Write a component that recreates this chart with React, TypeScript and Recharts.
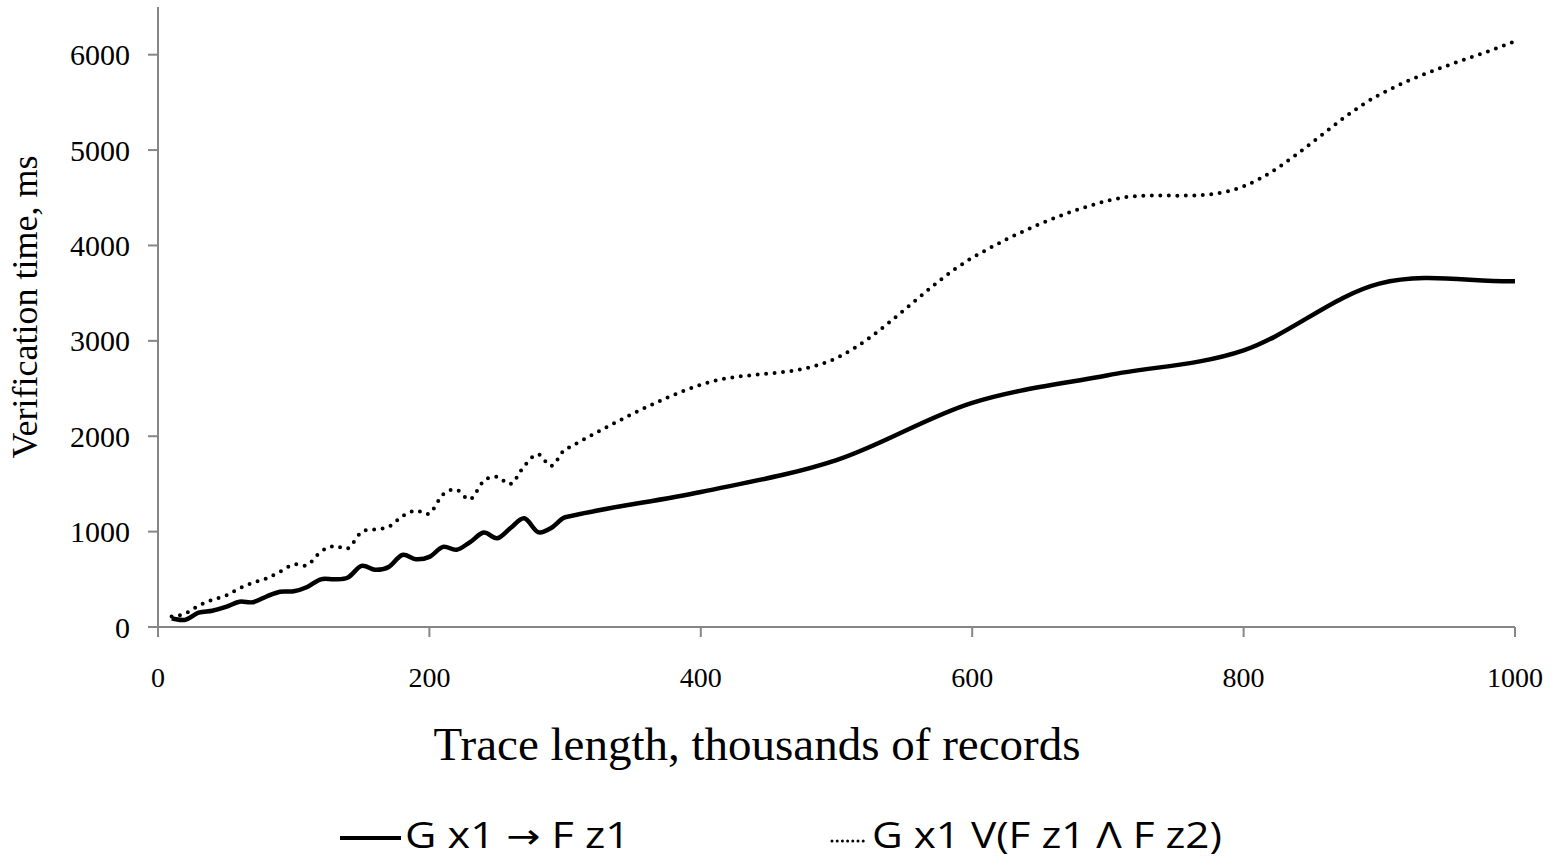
import { LineChart, Line, XAxis, YAxis, Legend, Label } from 'recharts';

// trace length, thousands of records
const traceLength = [
  10, 20, 30, 40, 50, 60, 70, 80, 90, 100,
  110, 120, 130, 140, 150, 160, 170, 180, 190, 200,
  210, 220, 230, 240, 250, 260, 270, 280, 290, 300,
  400, 500, 600, 700, 800, 900, 1000,
];

// G x1 -> F z1, ms
const simpleTime = [
  90, 75, 150, 170, 210, 265, 260, 320, 370, 375,
  420, 500, 500, 520, 640, 600, 630, 755, 710, 735,
  840, 810, 890, 990, 930, 1040, 1140, 995, 1040, 1150,
  1415, 1750, 2350, 2640, 2900, 3600, 3625,
];

// G x1 V(F z1 Λ F z2), ms
const complexTime = [
  110, 140, 225, 285, 330, 405, 465, 510, 580, 655,
  650, 790, 850, 825, 995, 1025, 1050, 1160, 1220, 1190,
  1390, 1440, 1340, 1530, 1575, 1500, 1690, 1810, 1690, 1860,
  2540, 2820, 3870, 4470, 4620, 5580, 6140,
];

const xTicks = [0, 200, 400, 600, 800, 1000];
const yTicks = [0, 1000, 2000, 3000, 4000, 5000, 6000];

const data = traceLength.map((x, i) => ({ x, simple: simpleTime[i], complex: complexTime[i] }));

const serif = '"Liberation Serif", "Times New Roman", serif';
const sans = '"Open Sans", "Noto Sans", sans-serif';
const axisGrey = '#868686';

// smoothed line similar to spreadsheet "smoothed line" (cubic Hermite with x-based tangents)
const smoothCurve = (context: any) => {
  let px: number[] = [];
  let py: number[] = [];
  return {
    areaStart() {},
    areaEnd() {},
    lineStart() {
      px = [];
      py = [];
    },
    point(x: number, y: number) {
      px.push(+x);
      py.push(+y);
    },
    lineEnd() {
      const n = px.length;
      if (!n) return;
      context.moveTo(px[0], py[0]);
      if (n === 1) return;
      const m: number[] = [];
      for (let i = 0; i < n; i++) {
        const a = Math.max(0, i - 1);
        const b = Math.min(n - 1, i + 1);
        m.push((py[b] - py[a]) / (px[b] - px[a]));
      }
      for (let i = 0; i < n - 1; i++) {
        const h = (px[i + 1] - px[i]) / 3;
        context.bezierCurveTo(
          px[i] + h, py[i] + m[i] * h,
          px[i + 1] - h, py[i + 1] - m[i + 1] * h,
          px[i + 1], py[i + 1]
        );
      }
    },
  };
};

const LegendContent = () => (
  <svg width={1555} height={54} style={{ overflow: 'visible', display: 'block' }}>
    <line x1={340} y1={33} x2={401} y2={33} stroke="#000" strokeWidth={4} />
    <text x={405} y={43} fontFamily={sans} fontSize={36} textLength={225} lengthAdjust="spacingAndGlyphs" fill="#000">
      G x1 <tspan fontFamily='"DejaVu Sans", sans-serif' fontSize={34}>→</tspan> F z1
    </text>
    <line x1={832} y1={36} x2={868} y2={36} stroke="#000" strokeWidth={3} strokeDasharray="0 5.2" strokeLinecap="round" />
    <text x={872} y={43} fontFamily={sans} fontSize={36} textLength={350} lengthAdjust="spacingAndGlyphs" fill="#000">
      G x1 V(F z1 Λ F z2)
    </text>
  </svg>
);

export default function App() {
  return (
    <div style={{ position: 'absolute', left: 0, top: 0, background: '#fff' }}>
      <LineChart width={1555} height={859} data={data} margin={{ top: 7, right: 40, left: 0, bottom: 0 }}>
        <XAxis
          dataKey="x"
          type="number"
          domain={[0, 1000]}
          ticks={xTicks}
          height={232}
          axisLine={{ stroke: axisGrey, strokeWidth: 2 }}
          tickLine={{ stroke: axisGrey, strokeWidth: 2 }}
          tickSize={10}
          tickMargin={30}
          tick={{ fill: '#000', fontSize: 28, fontFamily: serif }}
        >
          <Label
            content={() => (
              <text x={757} y={760} textAnchor="middle" fontFamily={serif} fontSize={47} fill="#000">
                Trace length, thousands of records
              </text>
            )}
          />
        </XAxis>
        <YAxis
          type="number"
          domain={[0, 6500]}
          ticks={yTicks}
          width={158}
          axisLine={{ stroke: axisGrey, strokeWidth: 2 }}
          tickLine={{ stroke: axisGrey, strokeWidth: 2 }}
          tickSize={10}
          tickMargin={18}
          tick={{ fill: '#000', fontSize: 30, fontFamily: serif }}
        >
          <Label
            content={() => (
              <text
                x={25}
                y={307}
                transform="rotate(-90, 25, 307)"
                textAnchor="middle"
                dominantBaseline="central"
                fontFamily={serif}
                fontSize={36}
                fill="#000"
              >
                Verification time, ms
              </text>
            )}
          />
        </YAxis>
        <Line
          dataKey="simple"
          type={smoothCurve as any}
          stroke="#000"
          strokeWidth={4.5}
          dot={false}
          isAnimationActive={false}
        />
        <Line
          dataKey="complex"
          type={smoothCurve as any}
          stroke="#000"
          strokeWidth={4}
          strokeDasharray="0 8.5"
          strokeLinecap="round"
          dot={false}
          isAnimationActive={false}
        />
        <Legend
          layout="horizontal"
          verticalAlign="middle"
          align="center"
          content={LegendContent}
          wrapperStyle={{ top: 805, left: 0, width: 1555, height: 54 }}
        />
      </LineChart>
    </div>
  );
}
